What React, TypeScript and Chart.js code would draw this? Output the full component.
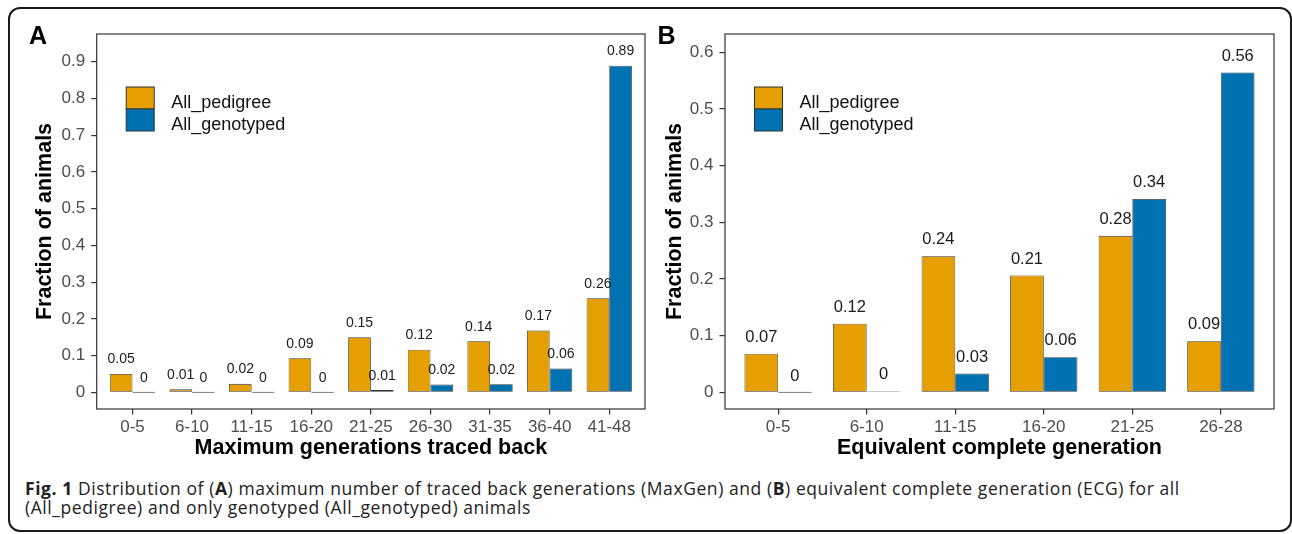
import React, { useEffect, useRef } from 'react';
import { Chart, registerables } from 'chart.js';

Chart.register(...registerables);

// ---------- data ----------
const seriesNames = ['All_pedigree', 'All_genotyped'];
const seriesColors = ['#E69F00', '#0072B2'];

const categoriesA = ['0-5', '6-10', '11-15', '16-20', '21-25', '26-30', '31-35', '36-40', '41-48'];
const pedigreeA = [0.05, 0.008, 0.023, 0.093, 0.15, 0.116, 0.139, 0.168, 0.256];
const genotypedA = [0, 0, 0, 0, 0.006, 0.021, 0.022, 0.0645, 0.889];
const yTicksA = [0, 0.1, 0.2, 0.3, 0.4, 0.5, 0.6, 0.7, 0.8, 0.9];

const categoriesB = ['0-5', '6-10', '11-15', '16-20', '21-25', '26-28'];
const pedigreeB = [0.068, 0.121, 0.24, 0.206, 0.276, 0.09];
const genotypedB = [0, 0.002, 0.033, 0.062, 0.341, 0.564];
const yTicksB = [0, 0.1, 0.2, 0.3, 0.4, 0.5, 0.6];

const xTitleA = 'Maximum generations traced back';
const xTitleB = 'Equivalent complete generation';
const yTitle = 'Fraction of animals';

const FONT = "'Liberation Sans', Arial, Helvetica, sans-serif";

type PanelCfg = {
  categories: string[];
  ped: number[];
  gen: number[];
  yTicks: number[];
  yMin: number;
  yMax: number;
  xTitle: string;
  yAxisWidth: number;
  xAxisHeight: number;
  padTop: number;
  padRight: number;
  yTitlePad: number;
  xTitlePad: number;
  labelFont: number;
  labelOffset: number;
  left: number;
  top: number;
  width: number;
  height: number;
};

const decorPlugin = {
  id: 'panelDecor',
  afterDatasetsDraw(chart: any, _args: any, opts: any) {
    const ctx = chart.ctx as CanvasRenderingContext2D;
    const ca = chart.chartArea;
    ctx.save();
    // value labels
    ctx.font = `${opts.labelFont}px ${FONT}`;
    ctx.fillStyle = '#1a1a1a';
    ctx.textAlign = 'center';
    ctx.textBaseline = 'middle';
    chart.data.datasets.forEach((ds: any, di: number) => {
      const meta = chart.getDatasetMeta(di);
      meta.data.forEach((el: any, i: number) => {
        const v = ds.data[i].y;
        const label = String(Math.round(v * 100) / 100);
        ctx.fillText(label, el.x, el.y - opts.labelOffset);
      });
    });
    // panel border
    ctx.strokeStyle = '#333333';
    ctx.lineWidth = 1.2;
    ctx.strokeRect(ca.left, ca.top, ca.right - ca.left, ca.bottom - ca.top);
    // legend
    const kx = ca.left + 29.5;
    const ky = ca.top + 53;
    const kw = 28;
    const kh = 22;
    chart.data.datasets.forEach((ds: any, di: number) => {
      ctx.fillStyle = ds.backgroundColor;
      ctx.fillRect(kx, ky + di * kh, kw, kh);
      ctx.strokeStyle = '#333333';
      ctx.lineWidth = 1;
      ctx.strokeRect(kx, ky + di * kh, kw, kh);
      ctx.fillStyle = '#111111';
      ctx.font = `18px ${FONT}`;
      ctx.textAlign = 'left';
      ctx.textBaseline = 'alphabetic';
      ctx.fillText(ds.label, kx + 45, ky + di * kh + 21.3);
    });
    ctx.restore();
  },
};

function Panel({ cfg }: { cfg: PanelCfg }) {
  const ref = useRef<HTMLCanvasElement>(null);
  useEffect(() => {
    const n = cfg.categories.length;
    const series = [cfg.ped, cfg.gen];
    const chart = new Chart(ref.current as HTMLCanvasElement, {
      type: 'bar',
      data: {
        datasets: series.map((vals, si) => ({
          label: seriesNames[si],
          data: cfg.categories.map((_, i) => ({ x: i, y: vals[i] })),
          backgroundColor: seriesColors[si],
          borderColor: '#333333',
          borderWidth: 0.8,
          borderSkipped: false,
          minBarLength: 1,
          categoryPercentage: 0.76,
          barPercentage: 1,
        })),
      },
      options: {
        animation: false,
        responsive: false,
        devicePixelRatio: 1,
        layout: { padding: { top: cfg.padTop, right: cfg.padRight, left: 0, bottom: 0 } },
        plugins: {
          legend: { display: false },
          tooltip: { enabled: false },
          panelDecor: { labelFont: cfg.labelFont, labelOffset: cfg.labelOffset },
        } as any,
        scales: {
          x: {
            type: 'linear',
            offset: false,
            min: -0.6,
            max: n - 1 + 0.6,
            afterBuildTicks: (s: any) => {
              s.ticks = cfg.categories.map((_, i) => ({ value: i }));
            },
            afterFit: (s: any) => {
              s.height = cfg.xAxisHeight;
            },
            ticks: {
              autoSkip: false,
              maxRotation: 0,
              padding: 3,
              color: '#4D4D4D',
              font: { family: FONT, size: 17 },
              callback: (v: any) => cfg.categories[v as number] ?? '',
            },
            grid: {
              display: true,
              offset: false,
              drawOnChartArea: false,
              drawTicks: true,
              tickLength: 5.5,
              color: '#333333',
              lineWidth: 1.2,
            },
            border: { display: false },
            title: {
              display: true,
              text: cfg.xTitle,
              color: '#000000',
              font: { family: FONT, size: 21.5, weight: 'bold' },
              padding: { top: 0, bottom: cfg.xTitlePad },
            },
          },
          y: {
            type: 'linear',
            min: cfg.yMin,
            max: cfg.yMax,
            afterBuildTicks: (s: any) => {
              s.ticks = cfg.yTicks.map((v) => ({ value: v }));
            },
            afterFit: (s: any) => {
              s.width = cfg.yAxisWidth;
            },
            ticks: {
              padding: 6,
              color: '#4D4D4D',
              font: { family: FONT, size: 17 },
              callback: (v: any) => String(v),
            },
            grid: {
              display: true,
              drawOnChartArea: false,
              drawTicks: true,
              tickLength: 5.5,
              color: '#333333',
              lineWidth: 1.2,
            },
            border: { display: false },
            title: {
              display: true,
              text: yTitle,
              color: '#000000',
              font: { family: FONT, size: 21.5, weight: 'bold' },
              padding: { top: cfg.yTitlePad, bottom: 0 },
            },
          },
        },
      } as any,
      plugins: [decorPlugin as any],
    });
    return () => chart.destroy();
  }, []);
  return (
    <canvas
      ref={ref}
      width={cfg.width}
      height={cfg.height}
      style={{ position: 'absolute', left: cfg.left, top: cfg.top, width: cfg.width, height: cfg.height }}
    />
  );
}

const panelA: PanelCfg = {
  categories: categoriesA,
  ped: pedigreeA,
  gen: genotypedA,
  yTicks: yTicksA,
  yMin: -0.0455,
  yMax: 0.9755,
  xTitle: xTitleA,
  yAxisWidth: 86.7,
  xAxisHeight: 61,
  padTop: 24,
  padRight: 5,
  yTitlePad: 22.1,
  xTitlePad: 8.6,
  labelFont: 14,
  labelOffset: 14.3,
  left: 10,
  top: 10,
  width: 640,
  height: 460,
};

const panelB: PanelCfg = {
  categories: categoriesB,
  ped: pedigreeB,
  gen: genotypedB,
  yTicks: yTicksB,
  yMin: -0.0294,
  yMax: 0.632,
  xTitle: xTitleB,
  yAxisWidth: 75,
  xAxisHeight: 61,
  padTop: 24,
  padRight: 11,
  yTitlePad: 12.1,
  xTitlePad: 8.6,
  labelFont: 16.5,
  labelOffset: 16.5,
  left: 650,
  top: 10,
  width: 635,
  height: 460,
};

const letterStyle: React.CSSProperties = {
  position: 'absolute',
  fontFamily: FONT,
  fontWeight: 'bold',
  fontSize: 25,
  lineHeight: '25px',
  color: '#000',
};

export default function App() {
  return (
    <div
      style={{
        position: 'absolute',
        left: 0,
        top: 0,
        width: 1292,
        height: 534,
        background: '#ffffff',
        overflow: 'hidden',
      }}
    >
      <div
        style={{
          position: 'absolute',
          left: 8,
          top: 7,
          width: 1284,
          height: 525,
          boxSizing: 'border-box',
          border: '2px solid #1a1a1a',
          borderRadius: 12,
        }}
      />
      <Panel cfg={panelA} />
      <Panel cfg={panelB} />
      <div style={{ ...letterStyle, left: 29, top: 22.8 }}>A</div>
      <div style={{ ...letterStyle, left: 657.5, top: 22.8 }}>B</div>
      <div
        style={{
          position: 'absolute',
          left: 25,
          top: 478.5,
          fontFamily: "'Open Sans', sans-serif",
          fontSize: 17.5,
          letterSpacing: '0.57px',
          lineHeight: '19px',
          color: '#222',
          whiteSpace: 'nowrap',
        }}
      >
        <b>Fig. 1</b> Distribution of (<b>A</b>) maximum number of traced back generations (MaxGen) and (<b>B</b>)
        equivalent complete generation (ECG) for all
        <br />
        (All_pedigree) and only genotyped (All_genotyped) animals
      </div>
    </div>
  );
}
